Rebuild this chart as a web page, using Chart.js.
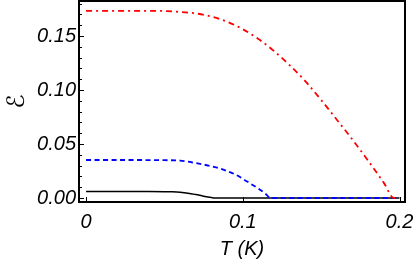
<!DOCTYPE html>
<html>
<head>
<meta charset="utf-8">
<script src="https://cdn.jsdelivr.net/npm/chart.js@4"></script>
<style>
  html, body { margin: 0; padding: 0; background: #fff; }
  #wrap { width: 415px; height: 264px; }
</style>
</head>
<body>
<div id="wrap"><canvas id="chart"></canvas></div>
<script>
// data
let tRed = [0, 0.04, 0.05, 0.06, 0.07, 0.08, 0.09, 0.10, 0.11, 0.12, 0.13, 0.14, 0.15, 0.16, 0.17, 0.18, 0.19, 0.1965, 0.2];
let eRed = [0.1733, 0.1733, 0.1731, 0.1723, 0.1709, 0.1680, 0.1632, 0.1563, 0.1472, 0.1360, 0.1228, 0.1080, 0.0908, 0.0725, 0.0540, 0.0345, 0.0140, 0, 0];

let tBlue = [0, 0.03, 0.05, 0.06, 0.065, 0.07, 0.075, 0.08, 0.085, 0.09, 0.095, 0.10, 0.105, 0.11, 0.115, 0.1175, 0.2];
let eBlue = [0.0352, 0.0352, 0.0350, 0.0347, 0.0337, 0.0323, 0.0310, 0.0293, 0.0275, 0.0249, 0.0219, 0.0178, 0.0132, 0.0087, 0.0033, 0, 0];

let tBlack = [0, 0.04, 0.05, 0.055, 0.06, 0.065, 0.07, 0.075, 0.08, 0.082, 0.2];
let eBlack = [0.0060, 0.0060, 0.0059, 0.0057, 0.0053, 0.0045, 0.0032, 0.0017, 0.0004, 0, 0];

let xTicks = [0, 0.1, 0.2];
let yTicks = [0, 0.05, 0.10, 0.15];
let yMinor = [0.01, 0.02, 0.03, 0.04, 0.06, 0.07, 0.08, 0.09, 0.11, 0.12, 0.13, 0.14, 0.16, 0.17, 0.18];

function pts(xs, ys) {
    return xs.map((x, i) => ({ x: x, y: ys[i] }));
}

const labelFont = { family: 'Liberation Sans', size: 20, style: 'italic' };

// frame and inward ticks like the original
const framePlugin = {
    id: 'frame',
    afterDatasetsDraw(chart) {
        const ctx = chart.ctx;
        const a = chart.chartArea;
        const xs = chart.scales.x;
        const ys = chart.scales.y;
        ctx.save();
        ctx.strokeStyle = '#000';
        ctx.lineWidth = 1;
        ctx.beginPath();
        xTicks.forEach(v => {
            let px = Math.round(xs.getPixelForValue(v)) + 0.5;
            ctx.moveTo(px, a.bottom);
            ctx.lineTo(px, a.bottom - 5);
        });
        yTicks.forEach(v => {
            let py = Math.round(ys.getPixelForValue(v)) + 0.5;
            ctx.moveTo(a.left, py);
            ctx.lineTo(a.left + 5, py);
        });
        yMinor.forEach(v => {
            let py = Math.round(ys.getPixelForValue(v)) + 0.5;
            ctx.moveTo(a.left, py);
            ctx.lineTo(a.left + 3, py);
        });
        ctx.stroke();
        ctx.lineWidth = 2;
        ctx.strokeRect(a.left, a.top, a.right - a.left, a.bottom - a.top);
        ctx.restore();
    }
};

new Chart(document.getElementById('chart').getContext('2d'), {
    type: 'line',
    data: {
        datasets: [{
            data: pts(tRed, eRed),
            borderColor: '#ff0000',
            borderWidth: 1.8,
            borderDash: [6, 4, 2, 4],
            cubicInterpolationMode: 'monotone'
        }, {
            data: pts(tBlue, eBlue),
            borderColor: '#0000ff',
            borderWidth: 1.8,
            borderDash: [5, 3.5],
            cubicInterpolationMode: 'monotone'
        }, {
            data: pts(tBlack, eBlack),
            borderColor: '#000000',
            borderWidth: 1.5,
            cubicInterpolationMode: 'monotone'
        }]
    },
    options: {
        responsive: true,
        maintainAspectRatio: false,
        animation: false,
        events: [],
        layout: { padding: { top: 1, right: 10, left: 0, bottom: 0 } },
        elements: { point: { radius: 0 } },
        plugins: { legend: { display: false }, tooltip: { enabled: false } },
        scales: {
            x: {
                type: 'linear',
                min: -0.0045,
                max: 0.2035,
                grid: { display: false, drawTicks: false },
                border: { display: false },
                afterBuildTicks: s => { s.ticks = xTicks.map(v => ({ value: v })); },
                afterFit: s => { s.height = 62; s.paddingLeft = 0; s.paddingRight = 0; },
                ticks: {
                    color: '#000',
                    font: labelFont,
                    padding: 8,
                    maxRotation: 0,
                    callback: v => v === 0 ? '0' : v.toFixed(1)
                },
                title: {
                    display: true,
                    text: 'T (K)',
                    color: '#000',
                    font: labelFont,
                    padding: { top: 0, bottom: 3 }
                }
            },
            y: {
                min: -0.0037,
                max: 0.1824,
                grid: { display: false, drawTicks: false },
                border: { display: false },
                afterBuildTicks: s => { s.ticks = yTicks.map(v => ({ value: v })); },
                afterFit: s => { s.width = 79; s.paddingTop = 0; s.paddingBottom = 0; },
                ticks: {
                    color: '#000',
                    font: labelFont,
                    padding: 3,
                    callback: v => v.toFixed(2)
                },
                title: {
                    display: true,
                    text: 'ℰ',
                    color: '#000',
                    font: { family: 'DejaVu Sans', size: 24, style: 'italic' },
                    padding: { top: 3, bottom: 0 }
                }
            }
        }
    },
    plugins: [framePlugin]
});
</script>
</body>
</html>
